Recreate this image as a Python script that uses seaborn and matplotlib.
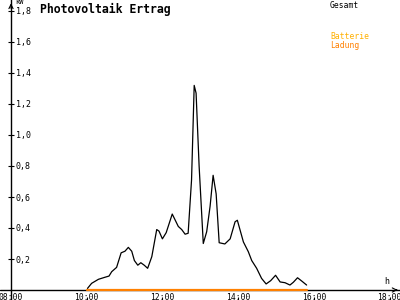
import matplotlib
matplotlib.use("Agg")
import matplotlib.pyplot as plt
import seaborn as sns
import pandas as pd

# ---- data ----
hours = [10.02, 10.13, 10.31, 10.48, 10.59, 10.66, 10.79, 10.91, 11.01, 11.10,
         11.19, 11.26, 11.35, 11.43, 11.52, 11.61, 11.72, 11.85, 11.91, 12.00,
         12.10, 12.26, 12.42, 12.51, 12.60, 12.68, 12.77, 12.84, 12.89, 12.97,
         13.08, 13.17, 13.26, 13.34, 13.42, 13.50, 13.65, 13.79, 13.92, 13.98,
         14.14, 14.27, 14.36, 14.49, 14.62, 14.74, 14.86, 14.99, 15.11, 15.24,
         15.37, 15.46, 15.57, 15.68, 15.81]
gesamt_kw = [0.01, 0.043, 0.069, 0.082, 0.09, 0.118, 0.146, 0.24, 0.25, 0.275,
             0.25, 0.19, 0.16, 0.176, 0.16, 0.14, 0.215, 0.39, 0.38, 0.33,
             0.37, 0.49, 0.41, 0.39, 0.36, 0.366, 0.71, 1.32, 1.27, 0.80,
             0.30, 0.376, 0.54, 0.74, 0.62, 0.305, 0.297, 0.33, 0.44, 0.45,
             0.31, 0.247, 0.19, 0.14, 0.075, 0.039, 0.06, 0.095, 0.052, 0.047,
             0.032, 0.05, 0.079, 0.058, 0.032]
ladung_hours = [10.0, 15.81]
ladung_kw = [0.0, 0.0]

x_ticks = [8, 10, 12, 14, 16, 18]
x_tick_labels = ["08:00", "10:00", "12:00", "14:00", "16:00", "18:00"]
y_ticks = [0.2, 0.4, 0.6, 0.8, 1.0, 1.2, 1.4, 1.6, 1.8]
y_tick_labels = ["0,2", "0,4", "0,6", "0,8", "1,0", "1,2", "1,4", "1,6", "1,8"]

title = "Photovoltaik Ertrag"
legend_labels = ["Gesamt", "Batterie", "Ladung"]

# ---- style ----
sns.set_style("white")
plt.rcParams["font.family"] = ["DejaVu Sans Mono", "DejaVu Sans"]

BLACK = "#000000"
AMBER = "#FFB000"
ORANGE = "#FF8000"

fig = plt.figure(figsize=(4, 3), dpi=100)
ax = fig.add_axes([0, 0, 1, 1])
ax.set_facecolor("white")

df = pd.DataFrame({"h": hours, "kw": gesamt_kw})
dl = pd.DataFrame({"h": ladung_hours, "kw": ladung_kw})

ax.axhline(0, color=BLACK, lw=1.0, zorder=1)
sns.lineplot(data=df, x="h", y="kw", ax=ax, color=BLACK, lw=0.9, zorder=3)
sns.lineplot(data=dl, x="h", y="kw", ax=ax, color=ORANGE, lw=1.6, zorder=4)

px = 37.85
ax.set_xlim(8 - 11 / px, 8 + 389 / px)
ax.set_ylim(-10 / 155, 290 / 155)

for s in ["top", "right", "bottom"]:
    ax.spines[s].set_visible(False)
ax.spines["left"].set_position(("data", 8))
ax.spines["left"].set_color(BLACK)
ax.spines["left"].set_linewidth(1.0)

ax.set_xticks(x_ticks)
ax.set_xticklabels(x_tick_labels)
ax.set_yticks(y_ticks)
ax.set_yticklabels(y_tick_labels)
ax.tick_params(axis="x", direction="inout", length=5, width=0.8, pad=0,
               labelsize=5.8, colors=BLACK, bottom=True)
ax.tick_params(axis="y", direction="inout", length=5, width=0.8, pad=-6.0,
               labelsize=6, colors=BLACK, left=True)
for lab in ax.get_yticklabels():
    lab.set_horizontalalignment("left")
# x tick labels sit in the figure just below the axis line
for lab in ax.get_xticklabels():
    lab.set_verticalalignment("top")
    lab.set_y(0.025)
    lab.set_transform(ax.get_xaxis_transform())
ax.set_xlabel("")
ax.set_ylabel("")

# arrow heads
ax.annotate("", xy=(18.29, 0), xytext=(18.1, 0),
            arrowprops=dict(arrowstyle="->,head_length=0.3,head_width=0.15",
                            color=BLACK, lw=0.8))
ax.annotate("", xy=(8, 1.868), xytext=(8, 1.80),
            arrowprops=dict(arrowstyle="->,head_length=0.3,head_width=0.15",
                            color=BLACK, lw=0.8))

# texts
ax.text(8 + 4 / px, 1.878, "kW", fontsize=5, va="top", ha="left", color=BLACK)
ax.text(18 - 5 / px, 0.025, "h", fontsize=6, va="bottom", ha="left", color=BLACK)
fig.text(40 / 400, 1 - 9 / 300, title, fontsize=8.3, fontweight="bold",
         va="center", ha="left", color=BLACK)
fig.text(330 / 400, 1 - 5 / 300, legend_labels[0], fontsize=5.8,
         va="center", ha="left", color=BLACK)
fig.text(330 / 400, 1 - 36.5 / 300, legend_labels[1], fontsize=5.8,
         va="center", ha="left", color=AMBER)
fig.text(330 / 400, 1 - 45 / 300, legend_labels[2], fontsize=5.8,
         va="center", ha="left", color=ORANGE)

fig.savefig("out.png", dpi=100, facecolor="white")
